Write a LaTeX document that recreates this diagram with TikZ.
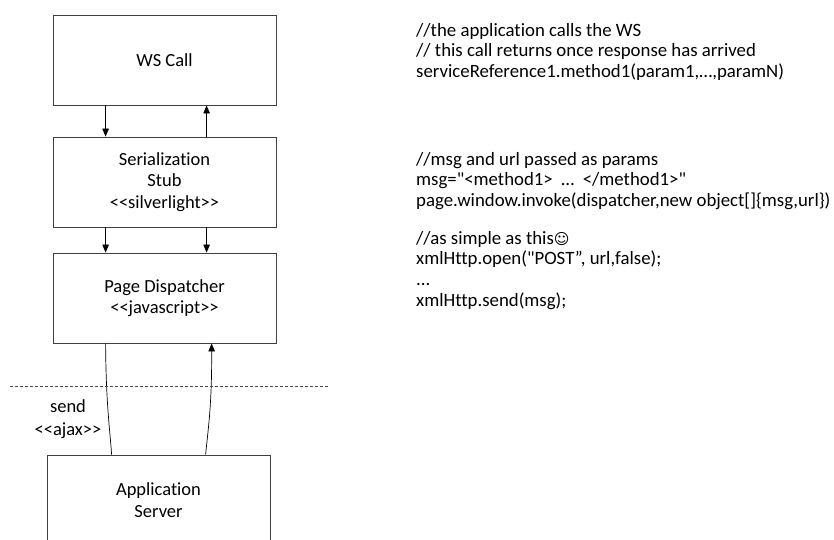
\documentclass[tikz,border=0pt]{standalone}
\usepackage{fontspec}
\setmainfont{Carlito}[Ligatures={TeXOff,CommonOff}]
\newfontfamily\symfont{DejaVu Sans}
\usetikzlibrary{arrows.meta}
\begin{document}
\begin{tikzpicture}[x=1pt,y=-1pt,
    box/.style={draw=black!75, line width=0.8pt, minimum width=223pt,
        minimum height=90pt, align=center, inner sep=0pt,
        font=\fontsize{18.5}{21.5}\selectfont},
    note/.style={anchor=north west, align=left, inner sep=0pt,
        font=\fontsize{18.8}{20.7}\selectfont},
    link/.style={draw=black, line width=0.7pt},
    tip/.style={-{Triangle[length=8pt,width=6.5pt]}}]
    \useasboundingbox (0,0) rectangle (834,539);
    \clip (0,0) rectangle (834,539);
    % boxes
    \node[box] (ws) at (164.5,60) {WS Call};
    \node[box] (stub) at (164.5,182) {Serialization\\Stub\\<<silverlight>>};
    \node[box] (page) at (164.5,298) {Page Dispatcher\\<<javascript>>};
    \node[box] (app) at (158.5,500) {Application\\Server};
    % arrows between the boxes
    \draw[link, tip] ([xshift=53pt]ws.south west) -- ([xshift=53pt]stub.north west);
    \draw[link, tip] ([xshift=154pt]stub.north west) -- ([xshift=154pt]ws.south west);
    \draw[link, tip] ([xshift=53pt]stub.south west) -- ([xshift=53pt]page.north west);
    \draw[link, tip] ([xshift=154pt]stub.south west) -- ([xshift=154pt]page.north west);
    \draw[link] ([xshift=53pt]page.south west)
        .. controls (106,405) and (110,430) .. ([xshift=65pt]app.north west);
    \draw[link, tip] ([xshift=159pt]app.north west)
        .. controls (208,430) and (212,405) .. ([xshift=159pt]page.south west);
    % boundary
    \draw[black!70, line width=0.8pt, dash pattern=on 3pt off 2pt] (10,386) -- (330,386);
    \node[align=center, font=\fontsize{18.5}{23}\selectfont] (send) at (68,419)
        {send\\<<ajax>>};
    % notes
    \node[note] (n1) at (416,23) {//the application calls the WS\\
        // this call returns once response has arrived\\
        serviceReference1.method1(param1,…,paramN)};
    \node[note] (n2) at (416,152) {//msg and url passed as params\\
        msg="<method1>\ \ …\ \ </method1>"\\
        page.window.invoke(dispatcher,new object[]\{msg,url\})};
    \node[note] (n3) at (416,231) {//as simple as this{\symfont\fontsize{15}{20.7}\selectfont ☺}\\
        xmlHttp.open("POST”, url,false);\\
        ...\\
        xmlHttp.send(msg);};
\end{tikzpicture}
\end{document}
